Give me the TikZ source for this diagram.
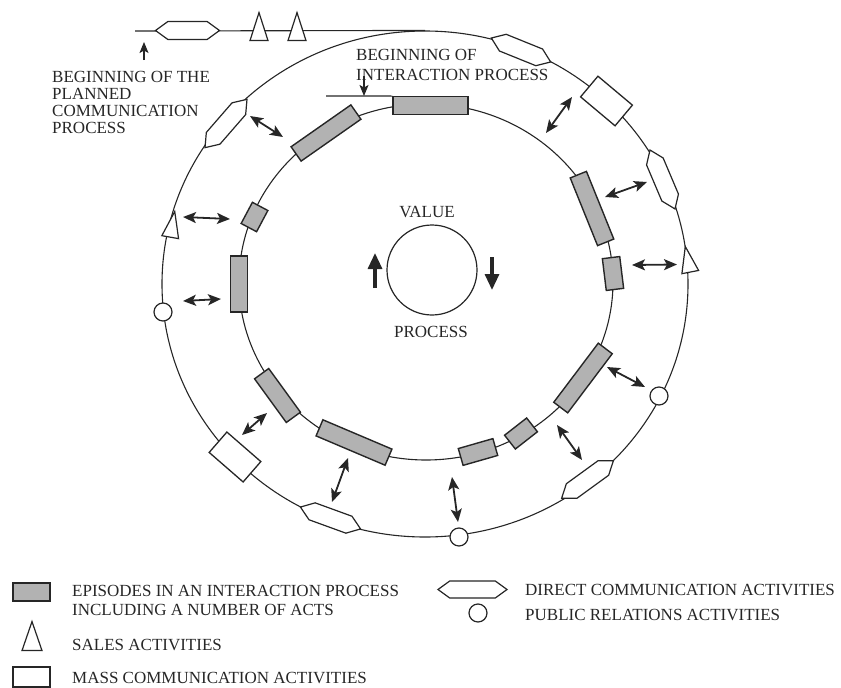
\documentclass[tikz,border=0pt]{standalone}
\usepackage{fontspec}
\setmainfont{Liberation Serif}
\usetikzlibrary{arrows.meta,shapes.geometric,shapes.symbols}

\definecolor{ink}{gray}{0.15}
\definecolor{episodefill}{gray}{0.70}

\tikzset{
  ring/.style={draw=ink, line width=1.1pt},
  episode/.style={rectangle, draw=ink, fill=episodefill, line width=1.4pt,
                  inner sep=0pt, minimum height=17.5pt},
  mass/.style={rectangle, draw=ink, fill=white, line width=1.3pt,
               inner sep=0pt, minimum width=45pt, minimum height=27pt},
  direct/.style={signal, signal to=east and west, signal pointer angle=72,
                 draw=ink, fill=white, line width=1.2pt, inner sep=0pt,
                 minimum width=64pt, minimum height=18pt},
  % minimum width gives the base, minimum height the apex-to-base distance
  sales/.style={isosceles triangle, isosceles triangle stretches,
                draw=ink, fill=white, line width=1.2pt, inner sep=0pt,
                minimum width=17pt, minimum height=26pt, anchor=apex},
  pr/.style={circle, draw=ink, fill=white, line width=1.2pt,
             inner sep=0pt, minimum size=18pt},
  link/.style={draw=ink, line width=1.8pt,
               {Stealth[length=13pt,width=11pt,inset=3pt]}-{Stealth[length=13pt,width=11pt,inset=3pt]}},
  tipline/.style={draw=ink, line width=1.4pt, -{Stealth[length=11pt,width=9pt,inset=2.5pt]}},
  turn/.style={draw=ink, line width=3.2pt, -{Triangle[length=16pt,width=14pt]}},
  caption/.style={font=\fontsize{17}{17}\selectfont, text=ink, inner sep=0pt},
}

\begin{document}
\begin{tikzpicture}[x=1pt,y=-1pt]
\useasboundingbox (0,0) rectangle (841,688);

% ---- the two rings ----
\node[ellipse, ring, minimum width=526pt, minimum height=506pt, inner sep=0pt] (outer) at (425,284) {};
\node[ellipse, ring, minimum width=374pt, minimum height=356pt, inner sep=0pt] (inner) at (426,282) {};

% planned communication line running into the outer ring
\coordinate (planstart) at (135,31);
\draw[ring] (planstart) -- (outer.north);

% ---- episodes on the inner ring ----
\node[episode, minimum width=75pt] (ep1) at (430.5,105.5) {};
\node[episode, minimum width=73pt, rotate=35] (ep2) at (326,133) {};
\node[episode, minimum width=24pt, rotate=62] (ep3) at (254.5,217) {};
\node[episode, minimum width=56pt, rotate=90] (ep4) at (239,284) {};
\node[episode, minimum width=54pt, rotate=-54] (ep5) at (277.5,395.5) {};
\node[episode, minimum width=75pt, rotate=-23] (ep6) at (354,442.5) {};
\node[episode, minimum width=36pt, rotate=16] (ep7) at (478,452) {};
\node[episode, minimum width=28pt, rotate=38] (ep8) at (521,433.5) {};
\node[episode, minimum width=74pt, rotate=53] (ep9) at (583,378) {};
\node[episode, minimum width=32pt, rotate=97] (ep10) at (613,273.5) {};
\node[episode, minimum width=73pt, rotate=-68] (ep11) at (592,208.5) {};

% start of the interaction process
\coordinate (interstart) at (326,96);
\draw[ring] (interstart) -- (ep1.north west);

% ---- activities on the outer ring ----
\node[direct] (d0) at (187.5,30.5) {};
\node[direct, rotate=-22] (d1) at (521,50) {};
\node[direct, rotate=-67] (d2) at (662.5,179.5) {};
\node[direct, rotate=36] (d3) at (587.5,479.5) {};
\node[direct, rotate=-20] (d4) at (330.5,518) {};
\node[direct, rotate=49] (d5) at (226,123.5) {};

\node[sales, minimum width=18pt, minimum height=28pt, rotate=90] (s1) at (259,11) {};
\node[sales, minimum width=18pt, minimum height=28pt, rotate=90] (s2) at (297,11) {};
\node[sales, rotate=101] (s3) at (685,245) {};
\node[sales, rotate=80] (s4) at (175,210) {};

\node[mass, rotate=-40] (m1) at (606.5,101) {};
\node[mass, rotate=-41] (m2) at (235,457) {};

\node[pr] (p1) at (163,312) {};
\node[pr] (p2) at (659,396) {};
\node[pr] (p3) at (459,537) {};

% ---- exchanges between the rings ----
\coordinate (a1) at (250,116);   \coordinate (b1) at (283,137);
\coordinate (a2) at (572,97);    \coordinate (b2) at (546,133);
\coordinate (a3) at (647,182);   \coordinate (b3) at (605,197);
\coordinate (a4) at (677,264.5); \coordinate (b4) at (632,265);
\coordinate (a5) at (645,387);   \coordinate (b5) at (607,367);
\coordinate (a6) at (582,460);   \coordinate (b6) at (557,425);
\coordinate (a7) at (458,522);   \coordinate (b7) at (452,477);
\coordinate (a8) at (332,502);   \coordinate (b8) at (348,458);
\coordinate (a9) at (242,435);   \coordinate (b9) at (267,413);
\coordinate (a10) at (183,301);  \coordinate (b10) at (221,299);
\coordinate (a11) at (183,217);  \coordinate (b11) at (230,219);
\foreach \k in {1,...,11} \draw[link] (a\k) -- (b\k);

% ---- value process in the centre ----
\node[circle, draw=ink, line width=1.2pt, minimum size=90pt, inner sep=0pt] (valuecircle) at (432,270) {};
\node[caption, anchor=base] (valuetext) at (427,217) {VALUE};
\node[caption, anchor=base] (processtext) at (431,337) {PROCESS};
\coordinate (upfrom) at (375,288);   \coordinate (upto) at (375,253);
\coordinate (downfrom) at (492,257); \coordinate (downto) at (492,290);
\draw[turn] (upfrom) -- (upto);
\draw[turn] (downfrom) -- (downto);

% ---- labels ----
\node[caption, align=left, anchor=north west] (plannedlabel) at (52,71.5)
  {BEGINNING OF THE\\PLANNED\\COMMUNICATION\\PROCESS};
\coordinate (plannedtail) at (144,60); \coordinate (plannedtip) at (144,42);
\draw[tipline] (plannedtail) -- (plannedtip);

\node[caption, font=\fontsize{17}{20}\selectfont, align=left, anchor=north west] (interlabel) at (356,49.5)
  {BEGINNING OF\\INTERACTION PROCESS};
\coordinate (intertail) at (364,76); \coordinate (intertip) at (364,96);
\draw[tipline] (intertail) -- (intertip);

% ---- key ----
\node[episode, minimum width=37pt, minimum height=18pt] (keyepisode) at (31.5,592) {};
\node[caption, font=\fontsize{17}{19}\selectfont, align=left, anchor=north west] (keyepisodetext) at (72,585)
  {EPISODES IN AN INTERACTION PROCESS\\INCLUDING A NUMBER OF ACTS};
\node[sales, minimum width=20pt, minimum height=29pt, rotate=90] (keysales) at (32,620) {};
\node[caption, anchor=base west] (keysalestext) at (72,650) {SALES ACTIVITIES};
\node[mass, minimum width=37pt, minimum height=20pt] (keymass) at (31.5,677) {};
\node[caption, anchor=base west] (keymasstext) at (72,683) {MASS COMMUNICATION ACTIVITIES};
\node[direct, minimum width=69pt, minimum height=17pt] (keydirect) at (472.5,589.5) {};
\node[caption, anchor=base west] (keydirecttext) at (525,595) {DIRECT COMMUNICATION ACTIVITIES};
\node[pr] (keypr) at (478,613) {};
\node[caption, anchor=base west] (keyprtext) at (525,620) {PUBLIC RELATIONS ACTIVITIES};
\end{tikzpicture}
\end{document}
